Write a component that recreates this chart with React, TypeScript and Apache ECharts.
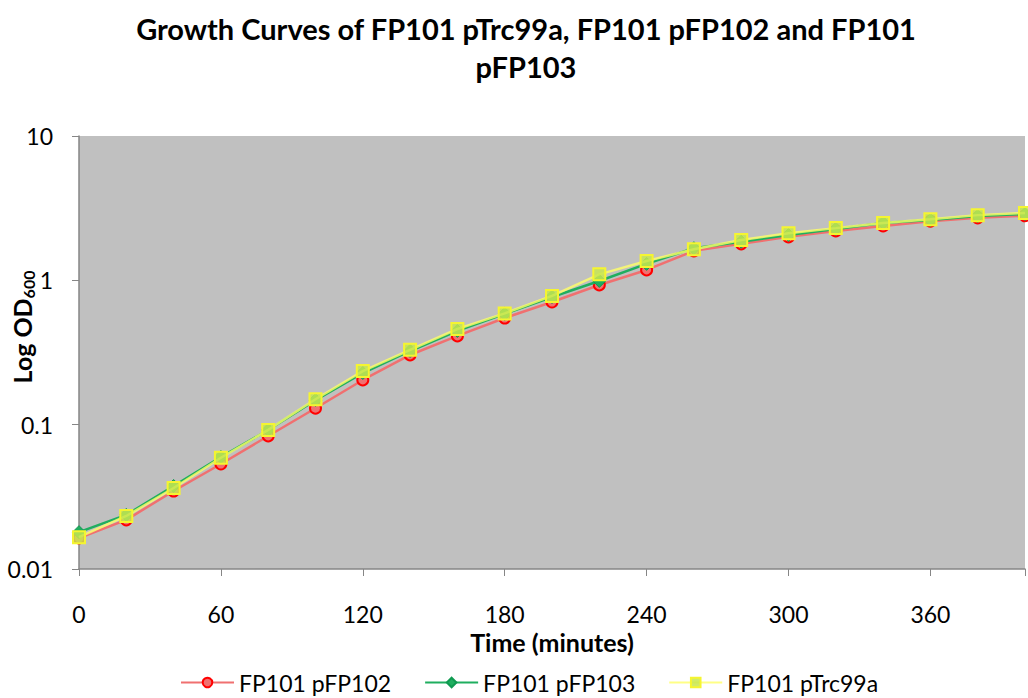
import React, { useEffect, useRef } from "react";
import * as echarts from "echarts";

const times = [0, 20, 40, 60, 80, 100, 120, 140, 160, 180, 200, 220, 240, 260, 280, 300, 320, 340, 360, 380, 400];
const pFP102 = [0.0164, 0.0219, 0.0347, 0.0534, 0.0835, 0.130, 0.204, 0.304, 0.412, 0.548, 0.708, 0.929, 1.18, 1.60, 1.79, 2.00, 2.20, 2.38, 2.57, 2.71, 2.80];
const pFP103 = [0.0180, 0.0237, 0.0376, 0.0597, 0.0919, 0.148, 0.228, 0.324, 0.446, 0.585, 0.767, 0.990, 1.30, 1.67, 1.85, 2.06, 2.27, 2.50, 2.62, 2.79, 2.88];
const pTrc99a = [0.0166, 0.0233, 0.0364, 0.0590, 0.0920, 0.150, 0.235, 0.330, 0.460, 0.590, 0.780, 1.10, 1.36, 1.64, 1.90, 2.12, 2.30, 2.50, 2.65, 2.83, 2.93];
const seriesNames = ["FP101 pFP102", "FP101 pFP103", "FP101 pTrc99a"];
const titleText = "Growth Curves of FP101 pTrc99a, FP101 pFP102 and FP101\npFP103";

const FONT = "Lato, 'Open Sans', sans-serif";

export default function App() {
  const ref = useRef<HTMLDivElement>(null);
  useEffect(() => {
    document.body.style.margin = "0";
    const chart = echarts.init(ref.current!, undefined, { renderer: "svg" });
    const pair = (arr: number[]) => times.map((t, i) => [t, arr[i]]);
    chart.setOption({
      animation: false,
      backgroundColor: "#ffffff",
      textStyle: { fontFamily: FONT },
      title: {
        text: titleText,
        left: 521,
        textAlign: "center",
        top: 4,
        textStyle: { fontSize: 29, fontWeight: "bold", color: "#000", lineHeight: 38, fontFamily: FONT },
      },
      grid: { left: 79, right: -6, top: 136, bottom: 129, backgroundColor: "#c0c0c0", show: true, borderWidth: 0 },
      xAxis: {
        type: "value",
        min: 0,
        max: 400,
        interval: 60,
        name: "Time (minutes)",
        nameLocation: "middle",
        nameGap: 55,
        nameTextStyle: { fontSize: 25, fontWeight: "bold", color: "#000", fontFamily: FONT },
        axisLine: { show: true, lineStyle: { color: "#868686", width: 1.5 } },
        axisTick: { show: true, length: 7, lineStyle: { color: "#868686" } },
        axisLabel: {
          fontSize: 23,
          color: "#000",
          margin: 33,
          fontFamily: FONT,
          formatter: (v: number) => (v % 60 === 0 && v < 400 ? String(v) : ""),
        },
        splitLine: { show: false },
      },
      yAxis: {
        type: "log",
        logBase: 10,
        min: 0.01,
        max: 10,
        axisLine: { show: true, lineStyle: { color: "#868686", width: 1.5 } },
        axisTick: { show: true, length: 7, lineStyle: { color: "#868686" } },
        axisLabel: { fontSize: 23, color: "#000", margin: 26, fontFamily: FONT, formatter: (v: number) => String(+v.toPrecision(3)) },
        splitLine: { show: false },
        minorTick: { show: false },
      },
      legend: {
        top: 671,
        left: 180,
        padding: 0,
        itemWidth: 53,
        itemHeight: 12,
        itemGap: 33,
        textStyle: { fontSize: 23, color: "#000", fontFamily: FONT },
        data: seriesNames,
      },
      graphic: [
        {
          type: "text",
          x: 22,
          y: 327,
          rotation: Math.PI / 2,
          style: {
            text: "{a|Log OD}{b|600}",
            align: "center",
            verticalAlign: "middle",
            rich: {
              a: { fontSize: 25, fontWeight: "bold", fill: "#000", fontFamily: FONT },
              b: { fontSize: 16, fontWeight: "bold", fill: "#000", fontFamily: FONT, padding: [12, 0, 0, 0] },
            },
          },
        },
      ],
      series: [
        {
          name: seriesNames[0],
          type: "line",
          data: pair(pFP102),
          symbol: "circle",
          symbolSize: 11,
          lineStyle: { color: "#f07070", width: 2.5 },
          itemStyle: { color: "#f07070", borderColor: "#ff0000", borderWidth: 2 },
          z: 2,
        },
        {
          name: seriesNames[1],
          type: "line",
          data: pair(pFP103),
          symbol: "diamond",
          symbolSize: 13,
          lineStyle: { color: "#1fae5f", width: 2.5 },
          itemStyle: { color: "#1fae5f", borderColor: "#0f9a50", borderWidth: 1 },
          z: 3,
        },
        {
          name: seriesNames[2],
          type: "line",
          data: pair(pTrc99a),
          symbol: "rect",
          symbolSize: 12,
          lineStyle: { color: "#ffff66", width: 2.5, opacity: 0.8 },
          itemStyle: { color: "rgba(200,230,80,0.85)", borderColor: "#f5f530", borderWidth: 2 },
          z: 4,
        },
      ],
    });
    return () => chart.dispose();
  }, []);
  return <div ref={ref} style={{ width: 1028, height: 698 }} />;
}
